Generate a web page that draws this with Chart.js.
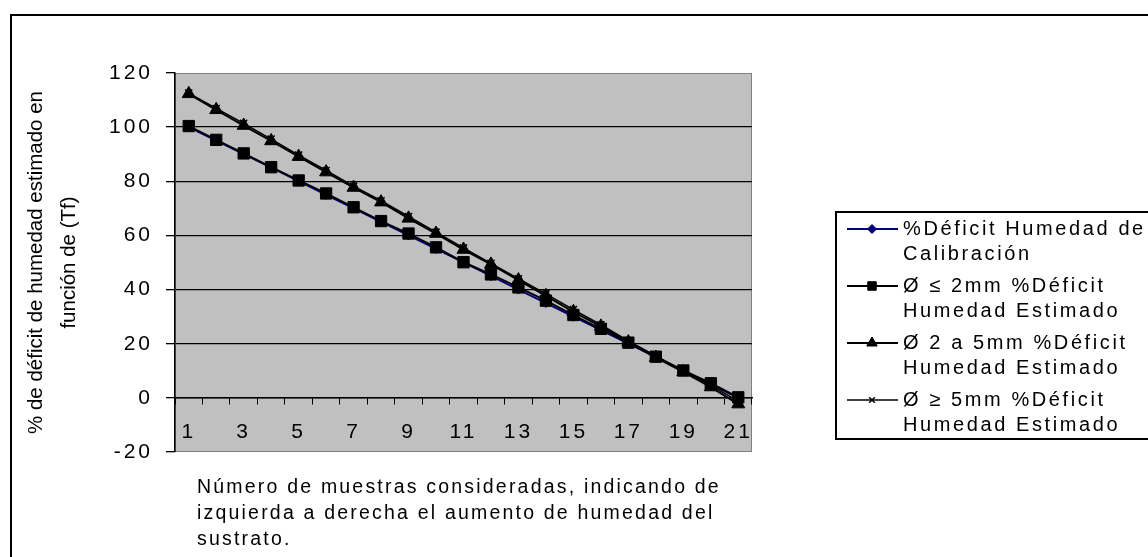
<!DOCTYPE html>
<html lang="es">
<head>
<meta charset="utf-8">
<title>Déficit de humedad estimado</title>
<script src="https://cdn.jsdelivr.net/npm/chart.js@4/dist/chart.umd.min.js"></script>
<style>
  html, body { margin: 0; padding: 0; background: #ffffff; }
  #marco { width: 1148px; height: 557px; }
</style>
</head>
<body>
<div id="marco"><canvas id="grafico" width="1148" height="557"></canvas></div>
<script>
// Muestras (eje de categorías) y etiquetas visibles del eje X
const muestras = ['1','2','3','4','5','6','7','8','9','10','11','12','13','14','15','16','17','18','19','20','21'];
const etiquetasX = ['1','3','5','7','9','11','13','15','17','19','21'];

// Marcas del eje Y
const ticksY = [-20, 0, 20, 40, 60, 80, 100, 120];

// % de déficit de humedad por serie
const calibracion = [100, 95, 90, 85, 80, 75, 70, 65, 60, 55, 50, 45, 40, 35, 30, 25, 20, 15, 10, 5, 0];
const menor2mm    = [100.4, 95.3, 90.3, 85.2, 80.3, 75.5, 70.4, 65.3, 60.7, 55.6, 50.1, 45.6, 40.8, 35.9, 30.6, 25.5, 20.4, 15.2, 10.1, 5.4, 0.2];
const entre2y5mm  = [112.3, 106.4, 100.6, 94.9, 89.1, 83.4, 77.7, 72.3, 66.3, 60.7, 54.8, 49.3, 43.5, 37.7, 31.8, 26.4, 20.6, 14.9, 9.6, 4.0, -2.3];
const mayor5mm    = [112.6, 106.9, 101.4, 95.6, 89.7, 84.0, 78.2, 72.8, 67.0, 61.2, 55.4, 49.7, 44.0, 38.4, 32.6, 27.0, 21.0, 15.5, 10.0, 4.6, -1.2];

// Textos de la leyenda (dos renglones por serie) y de los ejes
const leyendaCalibracion = ['%Déficit Humedad de', 'Calibración'];
const leyendaMenor2      = ['Ø ≤ 2mm %Déficit', 'Humedad Estimado'];
const leyendaEntre2y5    = ['Ø 2 a 5mm %Déficit', 'Humedad Estimado'];
const leyendaMayor5      = ['Ø ≥ 5mm %Déficit', 'Humedad Estimado'];
const tituloY = ['% de déficit de humedad estimado en', 'función de (Tf)'];
const tituloX = ['Número de muestras consideradas, indicando de',
                 'izquierda a derecha el aumento de humedad del',
                 'sustrato.'];

const FUENTE = "'Liberation Sans', Arial, Helvetica, sans-serif";

// Fondo gris del área de trazado, marco exterior, título del eje X y leyenda
const decoracion = {
  id: 'decoracion',
  beforeDraw(chart) {
    const { ctx, chartArea: a } = chart;
    ctx.save();
    ctx.letterSpacing = '0px';
    ctx.fillStyle = '#ffffff';
    ctx.fillRect(0, 0, chart.width, chart.height);
    ctx.fillStyle = '#c0c0c0';
    ctx.fillRect(a.left, a.top, a.right - a.left, a.bottom - a.top);
    ctx.strokeStyle = '#808080';
    ctx.lineWidth = 1;
    ctx.strokeRect(a.left + 0.5, a.top + 0.5, a.right - a.left - 1, a.bottom - a.top - 1);
    ctx.restore();
  },
  afterDatasetsDraw(chart) {
    // los rótulos de las marcas se dibujan después de las series, con texto espaciado
    chart.ctx.letterSpacing = '3px';
  },
  afterDraw(chart) {
    const ctx = chart.ctx;
    ctx.letterSpacing = '0px';
    ctx.save();

    // marco exterior
    ctx.strokeStyle = '#000000';
    ctx.lineWidth = 2;
    ctx.beginPath();
    ctx.moveTo(11, chart.height);
    ctx.lineTo(11, 15);
    ctx.lineTo(chart.width, 15);
    ctx.stroke();

    // título del eje X
    ctx.fillStyle = '#000000';
    ctx.font = '19.5px ' + FUENTE;
    ctx.textAlign = 'left';
    ctx.textBaseline = 'middle';
    ctx.letterSpacing = '2.2px';
    tituloX.forEach((linea, i) => ctx.fillText(linea, 197, 488 + i * 26));

    // leyenda
    ctx.letterSpacing = '0px';
    ctx.lineWidth = 2;
    ctx.strokeStyle = '#000000';
    ctx.strokeRect(836, 212, 330, 227);

    const textos = [leyendaCalibracion, leyendaMenor2, leyendaEntre2y5, leyendaMayor5];
    chart.data.datasets.forEach((ds, i) => {
      const y = 229 + i * 57;
      ctx.strokeStyle = ds.borderColor;
      ctx.lineWidth = ds.borderWidth;
      ctx.beginPath();
      ctx.moveTo(847, y);
      ctx.lineTo(898, y);
      ctx.stroke();

      ctx.fillStyle = ds.pointBackgroundColor;
      ctx.strokeStyle = ds.pointBorderColor;
      ctx.lineWidth = ds.pointBorderWidth;
      Chart.helpers.drawPoint(ctx, {
        pointStyle: ds.pointStyle,
        radius: ds.legendRadius,
        rotation: 0,
        borderWidth: ds.pointBorderWidth
      }, 872, y);

      ctx.fillStyle = '#000000';
      ctx.font = '20px ' + FUENTE;
      ctx.textAlign = 'left';
      ctx.textBaseline = 'middle';
      ctx.letterSpacing = '2.6px';
      textos[i].forEach((linea, k) => ctx.fillText(linea, 903, y + k * 25.5));
      ctx.letterSpacing = '0px';
    });

    ctx.restore();
  }
};

new Chart(document.getElementById('grafico'), {
  type: 'line',
  data: {
    labels: muestras,
    datasets: [
      {
        label: leyendaCalibracion.join(' '),
        data: calibracion,
        borderColor: '#000080', borderWidth: 1.8,
        pointStyle: 'rectRot', pointRadius: 4.5, legendRadius: 4.5,
        pointBackgroundColor: '#000080', pointBorderColor: '#000080', pointBorderWidth: 1,
        tension: 0, order: 4
      },
      {
        label: leyendaMenor2.join(' '),
        data: menor2mm,
        borderColor: '#000000', borderWidth: 2,
        pointStyle: 'rect', pointRadius: 8, legendRadius: 6,
        pointBackgroundColor: '#000000', pointBorderColor: '#000000', pointBorderWidth: 1,
        tension: 0, order: 3
      },
      {
        label: leyendaEntre2y5.join(' '),
        data: entre2y5mm,
        borderColor: '#000000', borderWidth: 2,
        pointStyle: 'triangle', pointRadius: 7.5, legendRadius: 6,
        pointBackgroundColor: '#000000', pointBorderColor: '#000000', pointBorderWidth: 1,
        tension: 0, order: 2
      },
      {
        label: leyendaMayor5.join(' '),
        data: mayor5mm,
        borderColor: '#000000', borderWidth: 1.5,
        pointStyle: 'crossRot', pointRadius: 5, legendRadius: 4,
        pointBackgroundColor: '#000000', pointBorderColor: '#000000', pointBorderWidth: 1.5,
        tension: 0, order: 1
      }
    ]
  },
  options: {
    responsive: false,
    animation: false,
    devicePixelRatio: 1,
    layout: { padding: { left: 12, top: 73, right: 396, bottom: 105 } },
    plugins: {
      legend: { display: false },
      tooltip: { enabled: false },
      title: { display: false }
    },
    scales: {
      x: {
        type: 'category',
        position: { y: 0 },
        offset: true,
        grid: {
          offset: true, drawOnChartArea: false, drawTicks: true,
          tickLength: 6, tickColor: '#000000', color: '#000000', lineWidth: 1
        },
        border: { color: '#000000', width: 1.5 },
        ticks: {
          autoSkip: false, maxRotation: 0, minRotation: 0,
          font: { family: FUENTE, size: 21 }, color: '#000000',
          padding: 16, z: 1,
          callback(valor) {
            const etiqueta = this.getLabelForValue(valor);
            return etiquetasX.includes(etiqueta) ? etiqueta : '';
          }
        },
        afterFit(escala) { escala.height = 0; }
      },
      y: {
        min: ticksY[0],
        max: ticksY[ticksY.length - 1],
        afterBuildTicks(escala) { escala.ticks = ticksY.map(v => ({ value: v })); },
        ticks: {
          font: { family: FUENTE, size: 21 }, color: '#000000',
          padding: 13, z: 1
        },
        grid: {
          color: (c) => (c.tick && (c.tick.value === ticksY[0] || c.tick.value === ticksY[ticksY.length - 1]))
            ? 'rgba(0,0,0,0)' : '#000000',
          tickColor: '#000000', tickLength: 9, lineWidth: 1.3
        },
        border: { color: '#000000', width: 1.5 },
        title: {
          display: true,
          text: tituloY,
          color: '#000000',
          font: { family: FUENTE, size: 20.5, lineHeight: 1.65 },
          padding: { top: 7, bottom: 0 }
        },
        afterFit(escala) { escala.width = 163; }
      }
    }
  },
  plugins: [decoracion]
});
</script>
</body>
</html>
